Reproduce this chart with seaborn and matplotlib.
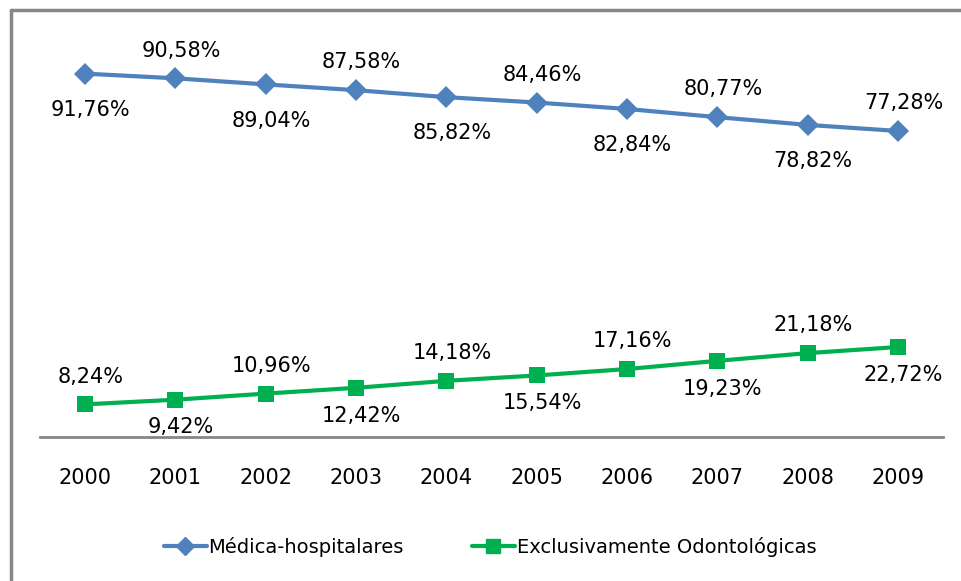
import matplotlib
matplotlib.use("Agg")
import matplotlib.pyplot as plt
import seaborn as sns
import pandas as pd
from matplotlib.lines import Line2D

# data
anos = ["2000", "2001", "2002", "2003", "2004", "2005", "2006", "2007", "2008", "2009"]
medica = [91.76, 90.58, 89.04, 87.58, 85.82, 84.46, 82.84, 80.77, 78.82, 77.28]
odonto = [8.24, 9.42, 10.96, 12.42, 14.18, 15.54, 17.16, 19.23, 21.18, 22.72]
nome_med = "Médica-hospitalares"
nome_odo = "Exclusivamente Odontológicas"

azul = "#4f81bd"
verde = "#00b050"

sns.set_style("white")
plt.rcParams["font.family"] = ["DejaVu Sans"]
plt.rcParams["text.color"] = "black"

df = pd.DataFrame({"ano": anos, nome_med: medica, nome_odo: odonto})
df["x"] = range(len(anos))

fig = plt.figure(figsize=(9.61, 5.81), dpi=100)
ax = fig.add_axes([40 / 961, 1 - 437 / 581, 903 / 961, 396 / 581])

sns.lineplot(data=df, x="x", y=nome_med, ax=ax, color=azul, lw=3,
             marker="D", markersize=11, markeredgewidth=0)
sns.lineplot(data=df, x="x", y=nome_odo, ax=ax, color=verde, lw=3,
             marker="s", markersize=12, markeredgewidth=0)

def fmt(v):
    return f"{v:.2f}%".replace(".", ",")

# labels alternate below / above
for i, v in enumerate(medica):
    dy = -26 if i % 2 == 0 else 20
    ax.annotate(fmt(v), (i, v), xytext=(4, dy), textcoords="offset points",
                ha="center", va="center", fontsize=15, color="black")
for i, v in enumerate(odonto):
    dy = 20 if i % 2 == 0 else -20
    ax.annotate(fmt(v), (i, v), xytext=(4, dy), textcoords="offset points",
                ha="center", va="center", fontsize=15, color="black")

ax.set_xlim(-0.5, len(anos) - 0.5)
ax.set_ylim(0, 100)
ax.set_xticks(range(len(anos)))
ax.set_xticklabels(anos, fontsize=15, color="black")
ax.tick_params(axis="x", length=0, pad=22)
ax.set_yticks([])
ax.set_xlabel("")
ax.set_ylabel("")
for s in ["top", "right", "left"]:
    ax.spines[s].set_visible(False)
ax.spines["bottom"].set_color("#868686")
ax.spines["bottom"].set_linewidth(2)

handles = [Line2D([], [], color=azul, lw=3, marker="D", markersize=9),
           Line2D([], [], color=verde, lw=3, marker="s", markersize=10)]
leg = fig.legend(handles, [nome_med, nome_odo], loc="center", bbox_to_anchor=(0.51, 1 - 547 / 581),
                 ncol=2, frameon=False, fontsize=14, handlelength=2.2, handletextpad=0.1,
                 columnspacing=3.5)
for t in leg.get_texts():
    t.set_color("black")

# gray frame (only top and left visible)
fig.add_artist(Line2D([11 / 961, 11 / 961], [0, 1 - 10 / 581], color="#878787", lw=2.5,
                      transform=fig.transFigure))
fig.add_artist(Line2D([11 / 961, 1], [1 - 10 / 581, 1 - 10 / 581], color="#878787", lw=2.5,
                      transform=fig.transFigure))

fig.savefig("out.png", dpi=100)
